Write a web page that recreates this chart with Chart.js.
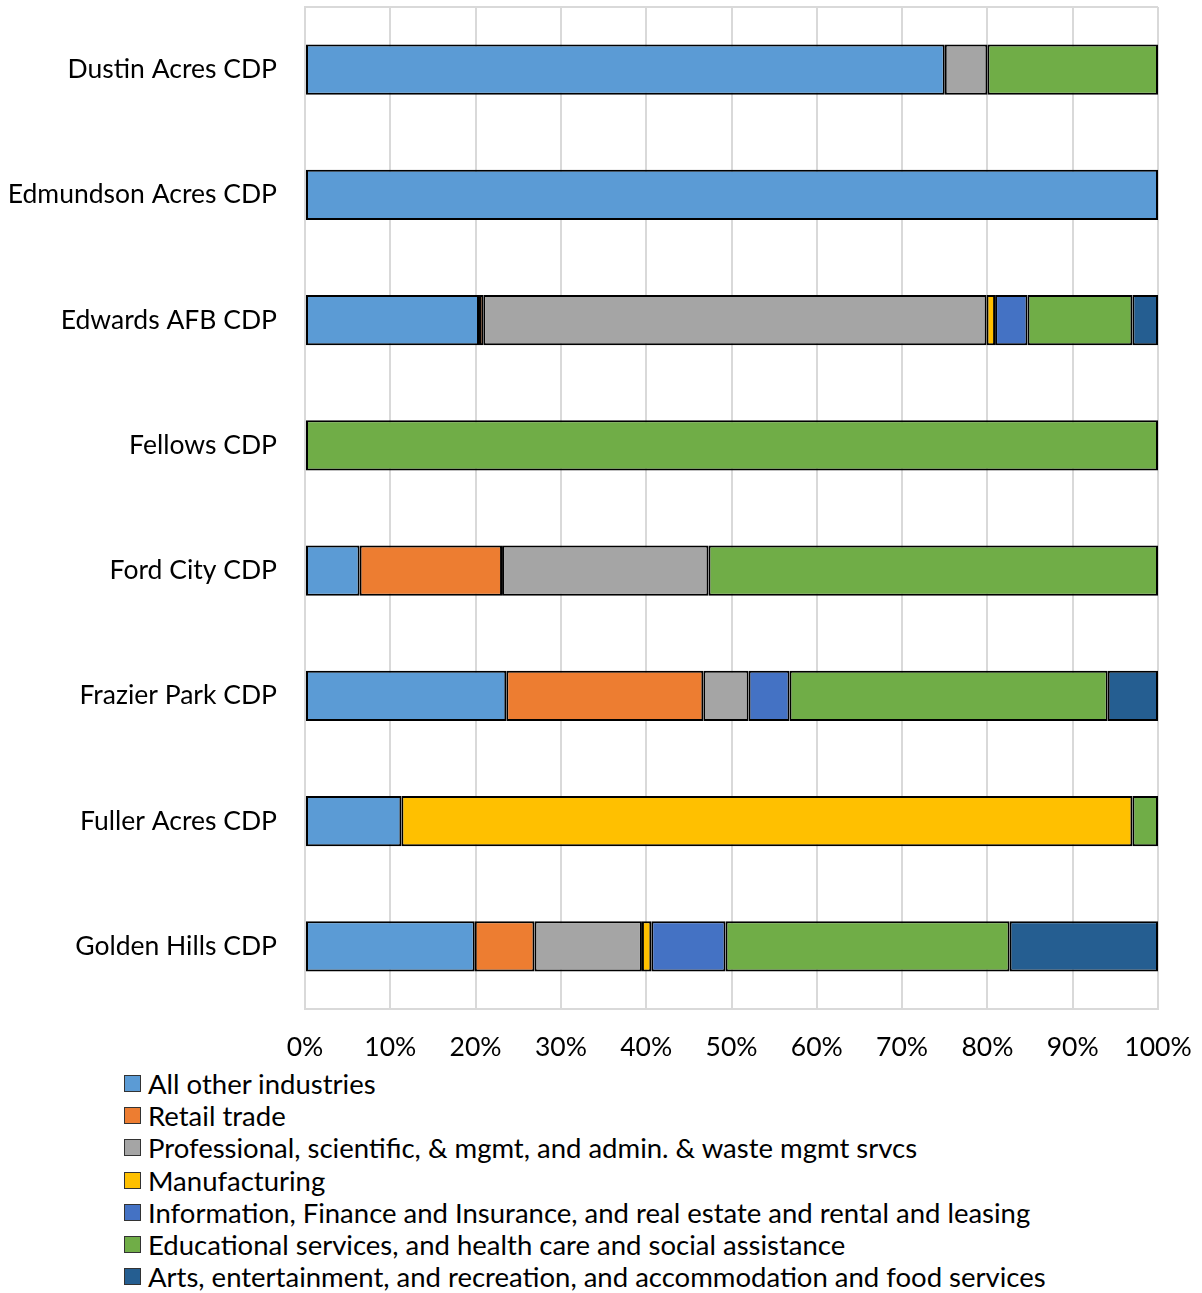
<!DOCTYPE html>
<html>
<head>
<meta charset="utf-8">
<script src="https://cdn.jsdelivr.net/npm/chart.js@4/dist/chart.umd.min.js"></script>
<style>
  html, body { margin: 0; padding: 0; background: #fff; }
  #wrap { position: relative; width: 1202px; height: 1293px; }
  #cv { position: absolute; left: 0; top: 0; }
  #legend { position: absolute; left: 124px; top: 1067px; font-family: Lato, sans-serif; font-size: 27.5px; color: #000; }
  .li { display: flex; align-items: center; height: 32.3px; white-space: nowrap; }
  .sw { width: 17px; height: 17px; border: 1.5px solid #333; margin-right: 7px; box-sizing: border-box; flex: none; }
</style>
</head>
<body>
<div id="wrap">
  <canvas id="cv" width="1202" height="1065"></canvas>
  <div id="legend"></div>
</div>
<script>
const categories = ["Dustin Acres CDP","Edmundson Acres CDP","Edwards AFB CDP","Fellows CDP","Ford City CDP","Frazier Park CDP","Fuller Acres CDP","Golden Hills CDP"];
const seriesNames = [
  "All other industries",
  "Retail trade",
  "Professional, scientific, & mgmt, and admin. & waste mgmt srvcs",
  "Manufacturing",
  "Information, Finance and Insurance, and real estate and rental and leasing",
  "Educational services, and health care and social assistance",
  "Arts, entertainment, and recreation, and accommodation and food services"
];
const allOther     = [75.0, 100, 20.4, 0, 6.4, 23.6, 11.3, 19.9];
const retail       = [0, 0, 0.5, 0, 16.7, 23.1, 0, 7.0];
const professional = [5.0, 0, 59.0, 0, 24.2, 5.3, 0, 12.6];
const manufacturing= [0, 0, 1.0, 0, 0, 0, 85.7, 1.1];
const information  = [0, 0, 3.8, 0, 0, 4.8, 0, 8.7];
const educational  = [20.0, 0, 12.3, 100, 52.7, 37.3, 3.0, 33.3];
const arts         = [0, 0, 3.0, 0, 0, 5.9, 0, 17.4];
const tickLabels = ["0%","10%","20%","30%","40%","50%","60%","70%","80%","90%","100%"];
const colors = ["#5B9BD5","#ED7D31","#A5A5A5","#FFC000","#4472C4","#70AD47","#255E91"];

const seriesValues = [allOther, retail, professional, manufacturing, information, educational, arts];
const datasets = seriesValues.map((vals, i) => ({
  label: seriesNames[i],
  data: vals.map(v => (v === 0 ? null : v)),
  backgroundColor: colors[i],
  borderColor: "#000",
  borderWidth: 2,
  borderSkipped: false,
  barPercentage: 0.4,
  categoryPercentage: 1.0
}));

const FONT = "Lato, sans-serif";
const topBorder = {
  id: "topBorder",
  afterDraw(chart) {
    const a = chart.chartArea, ctx = chart.ctx;
    ctx.save();
    ctx.strokeStyle = "#D9D9D9";
    ctx.lineWidth = 2;
    ctx.beginPath();
    ctx.moveTo(a.left, a.top);
    ctx.lineTo(a.right, a.top);
    ctx.stroke();
    ctx.restore();
  }
};

const chart = new Chart(document.getElementById("cv"), {
  type: "bar",
  data: { labels: categories, datasets },
  plugins: [topBorder],
  options: {
    indexAxis: "y",
    responsive: false,
    animation: false,
    layout: { padding: { top: 7, right: 44, left: 0, bottom: 0 } },
    plugins: { legend: { display: false }, tooltip: { enabled: false } },
    scales: {
      x: {
        stacked: true,
        min: 0, max: 100,
        afterFit(s) { s.height = 56; s.paddingLeft = 0; s.paddingRight = 0; s.paddingTop = 0; s.paddingBottom = 0; },
        afterBuildTicks(s) { s.ticks = tickLabels.map((t, i) => ({ value: i * 10 })); },
        ticks: {
          padding: 23,
          color: "#000",
          font: { family: FONT, size: 26.5 },
          callback: (v, i) => tickLabels[i]
        },
        grid: { color: "#D9D9D9", lineWidth: 2, tickLength: 0, drawTicks: false },
        border: { display: true, color: "#D9D9D9", width: 2 }
      },
      y: {
        stacked: true,
        afterFit(s) { s.width = 305; s.paddingTop = 0; s.paddingBottom = 0; s.paddingLeft = 0; s.paddingRight = 0; },
        ticks: { padding: 28, color: "#000", font: { family: FONT, size: 26.5 } },
        grid: { display: false, drawTicks: false },
        border: { display: true, color: "#D9D9D9", width: 2 }
      }
    }
  }
});

const lg = document.getElementById("legend");
seriesNames.forEach((n, i) => {
  const d = document.createElement("div");
  d.className = "li";
  const s = document.createElement("span");
  s.className = "sw";
  s.style.background = colors[i];
  const t = document.createElement("span");
  t.textContent = n;
  d.appendChild(s); d.appendChild(t);
  lg.appendChild(d);
});
</script>
</body>
</html>
